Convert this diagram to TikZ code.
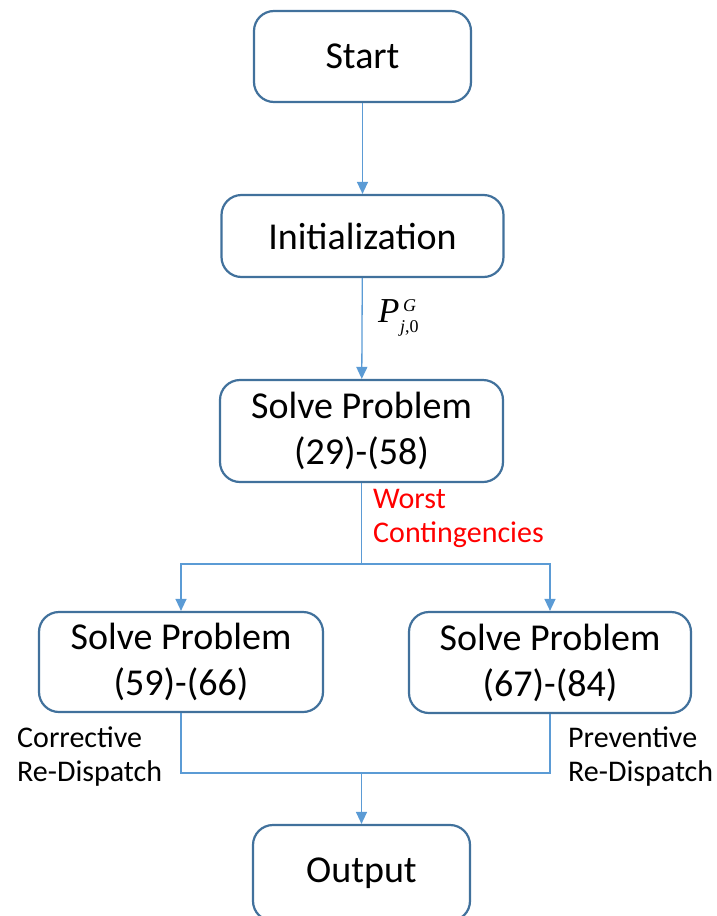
\documentclass[tikz,border=0pt]{standalone}
\usepackage{fontspec}
\setmainfont{Carlito}
\newfontfamily\timesfont{Liberation Serif}
\usetikzlibrary{arrows.meta}
\definecolor{boxblue}{HTML}{41719C}
\definecolor{lineblue}{HTML}{5B9BD5}
\begin{document}
\begin{tikzpicture}[x=1pt,y=-1pt,
  box/.style={draw=boxblue, line width=2.2pt, rounded corners=20pt, fill=white,
    inner sep=0pt, align=center, font=\fontsize{38}{46}\selectfont},
  conn/.style={draw=lineblue, line width=1.3pt},
  arr/.style={conn, -{Triangle[length=12pt,width=11pt]}},
  lbl/.style={inner sep=0pt, anchor=west, align=left, font=\fontsize{30}{34}\selectfont}]
\useasboundingbox (0,0) rectangle (717,916);
\clip (0,0) rectangle (717,916);
\node[box, minimum width=217pt, minimum height=91pt] (start) at (362.5,56.5) {Start};
\node[box, minimum width=282pt, minimum height=82pt] (init) at (362.5,236) {Initialization};
\node[box, minimum width=283pt, minimum height=102pt] (solve) at (361.5,431) {Solve Problem\\(29)-(58)};
\node[box, minimum width=284pt, minimum height=100pt] (left) at (181,662) {Solve Problem\\(59)-(66)};
\node[box, minimum width=282pt, minimum height=101pt] (right) at (550,662.5) {Solve Problem\\(67)-(84)};
\node[box, minimum width=217pt, minimum height=96pt] (out) at (361.5,873) {Output};

\draw[arr] (start) -- (init);
\draw[arr] (init) -- (solve);
\coordinate (split) at (361.5,564);
\draw[conn] (solve.south) -- (split);
\draw[arr] (split) -| (left.north);
\draw[arr] (split) -| (right.north);
\coordinate (merge) at (361.5,773);
\draw[conn] (left.south) |- (merge);
\draw[conn] (right.south) |- (merge);
\draw[arr] (merge) -- (out.north);

% P label
\node[inner sep=0pt, anchor=base west, font=\timesfont\itshape\fontsize{35}{35}\selectfont] (plbl) at (378,322) {P};
\node[inner sep=0pt, anchor=base west, font=\timesfont\itshape\fontsize{18}{18}\selectfont] (psup) at (403,311) {G};
\node[inner sep=0pt, anchor=base west, font=\timesfont\fontsize{18}{18}\selectfont] (psub) at (400,332) {\itshape j\upshape,0};

\node[lbl, text=red] (worst) at (373,518) {Worst\\Contingencies};
\node[lbl] (corr) at (17,757) {Corrective\\Re-Dispatch};
\node[lbl] (prev) at (568,757) {Preventive\\Re-Dispatch};
\end{tikzpicture}
\end{document}
